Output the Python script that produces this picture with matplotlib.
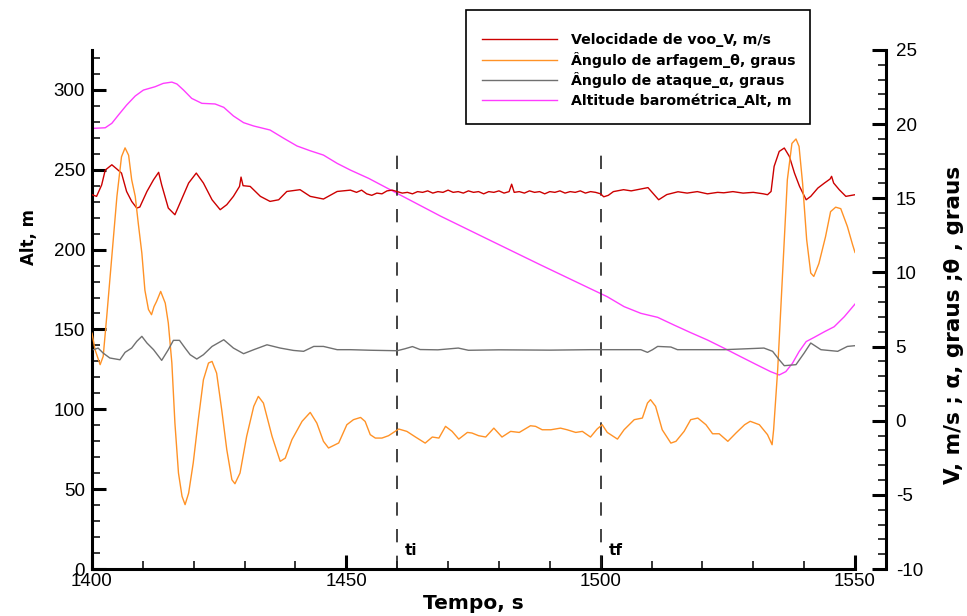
import matplotlib
matplotlib.use("Agg")
import matplotlib.pyplot as plt
from matplotlib.patches import Rectangle
from matplotlib.ticker import MultipleLocator

plt.rcParams["axes.unicode_minus"] = False

# ---------------- data ----------------
alt_t = [1400, 1402.6, 1403.9, 1405.2, 1406.8, 1408.5, 1410.1, 1412.4, 1414.0, 1415.7, 1416.7,
         1418.0, 1419.6, 1421.6, 1424.2, 1425.9, 1427.8, 1429.8, 1431.8, 1435.0, 1437.7, 1440.3,
         1442.9, 1445.5, 1448.2, 1450.8, 1454.4, 1460.0, 1468.5, 1478.4, 1488.2, 1498.0, 1501.3,
         1504.6, 1507.9, 1511.2, 1514.4, 1517.7, 1521.0, 1524.3, 1527.5, 1530.8, 1533.4, 1535.1,
         1536.4, 1537.7, 1539.0, 1540.4, 1542.0, 1544.0, 1545.9, 1547.9, 1550]
alt_v = [275.9, 276.3, 279.1, 284.3, 290.5, 296.2, 299.9, 302.0, 304.1, 304.9, 303.7,
         299.9, 294.7, 291.6, 291.2, 289.1, 283.7, 279.5, 277.4, 274.9, 269.7, 264.9,
         261.9, 259.2, 254.0, 249.8, 244.6, 235.2, 221.0, 205.6, 190.4, 175.5, 170.5,
         164.3, 160.1, 157.6, 152.8, 148.0, 143.4, 138.2, 133.0, 127.7, 123.6, 121.5,
         123.6, 128.8, 136.1, 142.4, 145.1, 148.6, 151.7, 158.0, 165.9]

vel_t = [1400, 1400.9, 1401.9, 1402.6, 1403.9, 1404.9, 1405.8, 1406.8, 1407.8, 1408.8, 1409.4,
         1410.8, 1412.1, 1413.1, 1413.7, 1415.0, 1416.3, 1417.3, 1419.0, 1420.5, 1421.9, 1423.6,
         1425.2, 1426.5, 1427.8, 1429.0, 1429.3, 1429.7, 1431.1, 1433.1, 1435.0, 1436.7, 1438.3,
         1440.9, 1442.9, 1445.5, 1448.2,
         1450.8, 1452, 1453, 1454, 1455, 1456, 1457, 1458, 1459, 1460, 1461, 1462, 1463, 1464,
         1465, 1466, 1467, 1468, 1469, 1470, 1471, 1472, 1473, 1474, 1475, 1476, 1477, 1478,
         1479, 1480, 1481, 1482, 1482.5, 1483, 1484, 1485, 1486, 1487, 1488, 1489, 1490, 1491,
         1492, 1493, 1494, 1495, 1496, 1497, 1498, 1499, 1500, 1500.6, 1501.5, 1502.5, 1504.5,
         1506, 1507.5, 1509.3, 1511.4, 1513, 1515.2, 1517, 1519, 1521, 1523, 1524.2, 1526, 1528,
         1530, 1532, 1532.8, 1533.5, 1534.1, 1535.1, 1536.1, 1537.1, 1538.1, 1539.1, 1540.4,
         1541.3, 1542.7, 1544.0, 1545.1, 1545.4, 1545.8, 1546.9, 1548.2, 1550]
vel_v = [15.24, 15.13, 15.9, 16.9, 17.26, 16.97, 16.7, 15.46, 14.79, 14.34, 14.41,
         15.46, 16.25, 16.75, 15.9, 14.34, 13.89, 14.68, 16.03, 16.7, 16.03, 14.9,
         14.23, 14.57, 15.13, 15.8, 16.43, 15.85, 15.8, 15.13, 14.79, 14.9, 15.46,
         15.58, 15.13, 14.95, 15.46,
         15.55, 15.4, 15.55, 15.3, 15.2, 15.35, 15.3, 15.5, 15.55, 15.45, 15.35, 15.4, 15.3, 15.45,
         15.4, 15.5, 15.35, 15.45, 15.4, 15.55, 15.4, 15.45, 15.35, 15.5, 15.4, 15.45, 15.3, 15.45,
         15.4, 15.5, 15.35, 15.45, 15.95, 15.4, 15.45, 15.35, 15.5, 15.4, 15.45, 15.3, 15.45, 15.4,
         15.5, 15.35, 15.45, 15.4, 15.5, 15.35, 15.45, 15.4, 15.3, 15.1, 15.2, 15.45, 15.58,
         15.5, 15.6, 15.72, 14.9, 15.25, 15.44, 15.35, 15.45, 15.3, 15.4, 15.37, 15.45, 15.35,
         15.4, 15.3, 15.24, 15.46, 17.15, 18.16, 18.39, 17.82, 16.7, 15.8, 14.9,
         15.13, 15.69, 16.03, 16.3, 16.48, 16.03, 15.58, 15.13, 15.24]

theta_t = [1400.0, 1400.6, 1401.6, 1402.2, 1402.9, 1403.9, 1404.9, 1405.8, 1406.5, 1407.2, 1407.8,
           1408.5, 1409.1, 1409.8, 1410.4, 1411.1, 1411.7, 1412.2, 1412.7, 1413.5, 1414.4, 1415.0,
           1415.7, 1416.3, 1417.0, 1417.7, 1418.3, 1419.0, 1419.9, 1420.9, 1421.9, 1422.9, 1423.6,
           1424.5, 1425.5, 1426.5, 1427.5, 1428.1, 1429.1, 1430.4, 1431.8, 1432.7, 1433.7, 1435.4,
           1437.0, 1438.0, 1439.3, 1441.3, 1442.9, 1444.2, 1445.5, 1446.5, 1448.5, 1450.1, 1451.4,
           1452.8, 1453.7, 1454.7, 1455.7, 1457.0, 1458.3, 1460.3, 1461.9, 1463.6, 1465.5, 1466.9,
           1468.2, 1469.5, 1470.8, 1472.1, 1473.8, 1474.7, 1476.0, 1477.4, 1479.0, 1480.6, 1482.3,
           1484.0, 1486.2, 1487.2, 1488.5, 1490.2, 1492.1, 1493.4, 1495.1, 1496.4, 1498.0, 1499.3,
           1500.3, 1501.3, 1503.3, 1504.6, 1506.6, 1508.2, 1509.2, 1509.8, 1510.8, 1512.1, 1513.8,
           1514.8, 1516.4, 1517.7, 1519.1, 1520.7, 1522.0, 1523.3, 1525.0, 1526.6, 1528.3, 1529.4,
           1531.2, 1532.8, 1533.7, 1534.0, 1534.8, 1535.8, 1536.7, 1537.6, 1538.4, 1539.0, 1539.7,
           1540.5, 1541.3, 1541.9, 1542.9, 1544.2, 1545.2, 1546.2, 1547.2, 1548.5, 1549.5, 1550.0]
theta_v = [5.9, 4.79, 3.78, 4.34, 7.04, 11.08, 15.13, 17.8, 18.4, 17.9, 16.25,
           15.13, 13.3, 11.3, 8.8, 7.5, 7.15, 7.7, 8.05, 8.72, 7.93, 6.59,
           3.89, -0.16, -3.53, -5.1, -5.66, -4.88, -2.85, 0.07, 2.76, 3.89, 4.0,
           3.21, 0.74, -1.96, -3.98, -4.25, -3.53, -1.06, 0.97, 1.64, 1.19, -1.06,
           -2.74, -2.52, -1.28, -0.04, 0.56, -0.16, -1.39, -1.84, -1.5, -0.27, 0.07,
           0.22, -0.05, -0.94, -1.17, -1.17, -1.01, -0.56, -0.72, -1.1, -1.51, -1.1,
           -1.17, -0.38, -0.72, -1.24, -0.79, -0.83, -1.01, -1.1, -0.5, -1.1, -0.72,
           -0.79, -0.34, -0.38, -0.61, -0.61, -0.5, -0.61, -0.79, -0.72, -1.1, -0.56,
           -0.27, -0.79, -1.24, -0.61, 0.07, 0.18, 1.19, 1.42, 0.97, -0.61, -1.51,
           -1.39, -0.72, 0.07, 0.18, -0.27, -0.88, -0.88, -1.39, -0.83, -0.27, -0.04,
           -0.27, -0.94, -1.62, -0.61, 3.44, 10.2, 16.25, 18.7, 19.0, 18.5, 16.0,
           12.2, 9.96, 9.73, 10.6, 12.4, 14.1, 14.4, 14.3, 13.1, 11.9, 11.35]

alpha_t = [1400.3, 1401.2, 1402.2, 1403.5, 1405.5, 1406.5, 1407.8, 1408.8, 1409.8, 1410.8, 1412.1,
           1413.7, 1415.0, 1416.0, 1417.2, 1418.3, 1419.3, 1420.6, 1421.9, 1423.6, 1425.9, 1427.8,
           1429.8, 1431.8, 1434.4, 1437.0, 1439.6, 1441.6, 1443.6, 1445.5, 1448.2, 1450.8, 1455,
           1460, 1461.5, 1463, 1464.5, 1468, 1472, 1474, 1480, 1490, 1498.0, 1507.9, 1509.2,
           1510.2, 1511.2, 1513.8, 1515.1, 1524.3, 1532.1, 1533.8, 1535.1, 1536.1, 1538.4, 1540.0,
           1541.3, 1543.3, 1546.6, 1548.5, 1550.0]
alpha_v = [4.79, 4.9, 4.56, 4.23, 4.11, 4.61, 4.9, 5.35, 5.69, 5.24, 4.79,
           4.07, 4.79, 5.42, 5.42, 4.9, 4.45, 4.16, 4.45, 5.01, 5.46, 4.9,
           4.52, 4.79, 5.12, 4.9, 4.74, 4.68, 5.01, 5.01, 4.79, 4.79, 4.75,
           4.72, 4.85, 5.0, 4.8, 4.78, 4.9, 4.75, 4.78, 4.76, 4.79, 4.79, 4.61,
           4.79, 5.01, 4.97, 4.79, 4.79, 4.9, 4.68, 4.11, 3.71, 3.78, 4.56,
           5.24, 4.79, 4.68, 5.01, 5.06]

marks_t = [1460, 1500]
marks_lbl = ["ti", "tf"]

labels = ["Velocidade de voo_V, m/s", "Ângulo de arfagem_θ, graus",
          "Ângulo de ataque_α, graus", "Altitude barométrica_Alt, m"]

# ---------------- figure ----------------
fig = plt.figure(figsize=(9.67, 6.16), dpi=100)
ax = fig.add_axes([92/967, 47/616, 763/967, 519/616])
ax2 = ax.twinx()

l_alt, = ax.plot(alt_t, alt_v, color="#ff3cff", lw=1.0)
l_vel, = ax2.plot(vel_t, vel_v, color="#cc0000", lw=1.0)
l_th, = ax2.plot(theta_t, theta_v, color="#ff9226", lw=1.0)
l_al, = ax2.plot(alpha_t, alpha_v, color="#707070", lw=1.0)

ax.set_xlim(1400, 1550)
ax.set_ylim(0, 325)
ax2.set_ylim(-10, 25)

for t, lb in zip(marks_t, marks_lbl):
    ax.axvline(t, ymin=0, ymax=263.6/325, color="#222222", lw=1.2,
               linestyle=(0, (8, 8)))
    ax.text(t + 1.5, 7, lb, fontsize=11, fontweight="bold", ha="left", va="bottom",
            family="DejaVu Sans")

# spines
for s in ["top", "right"]:
    ax.spines[s].set_visible(False)
for s in ["top", "left", "bottom"]:
    ax2.spines[s].set_visible(False)
ax.spines["left"].set_linewidth(2.2)
ax.spines["bottom"].set_linewidth(2.2)
ax2.spines["right"].set_linewidth(2.2)
ax2.spines["right"].set_position(("outward", 22.3))
ax2.spines["right"].set_bounds(-10, 25)

# ticks
ax.xaxis.set_major_locator(MultipleLocator(50))
ax.xaxis.set_minor_locator(MultipleLocator(10))
ax.yaxis.set_major_locator(MultipleLocator(50))
ax.yaxis.set_minor_locator(MultipleLocator(10))
ax2.yaxis.set_major_locator(MultipleLocator(5))
ax2.yaxis.set_minor_locator(MultipleLocator(1))

ax.tick_params(axis="both", which="major", direction="in", length=10, width=2.2)
ax.tick_params(axis="both", which="minor", direction="in", length=6, width=1.1)
ax.tick_params(axis="y", which="major", pad=5)
ax.tick_params(axis="x", which="major", pad=3)
ax2.tick_params(axis="y", which="major", direction="in", length=10, width=2.2, pad=7)
ax2.tick_params(axis="y", which="minor", direction="in", length=6, width=1.1)
for lab in ax.get_xticklabels() + ax.get_yticklabels() + ax2.get_yticklabels():
    lab.set_fontfamily("Liberation Sans")
    lab.set_fontsize(13.5)

ax.set_xlabel("Tempo, s", fontsize=14.5, fontweight="bold", family="DejaVu Sans")
ax.xaxis.set_label_coords(0.5, -0.048)
ax.set_ylabel("Alt, m", fontsize=12, fontweight="bold", family="DejaVu Sans")
ax.yaxis.set_label_coords(-0.071, 0.64)
ax2.set_ylabel("V, m/s ; α, graus ;θ , graus", fontsize=15.5, fontweight="bold",
               family="DejaVu Sans", rotation=90)
ax2.yaxis.set_label_coords(1.116, 0.47)

# legend box
fig.patches.append(Rectangle((466/967, (616-124)/616), 344/967, 114/616,
                             transform=fig.transFigure, fill=True, facecolor="white",
                             edgecolor="black", lw=1.2, zorder=5))
leg = fig.legend([l_vel, l_th, l_al, l_alt], labels, loc="upper left",
                 bbox_to_anchor=(482/967, 1 - 33/616), frameon=False,
                 prop=dict(family="DejaVu Sans", weight="bold", size=10.2),
                 handlelength=5.3, handletextpad=0.98, labelspacing=0.33,
                 borderpad=0.0, borderaxespad=0.0)
leg.set_zorder(6)

fig.savefig("out.png", dpi=100)
